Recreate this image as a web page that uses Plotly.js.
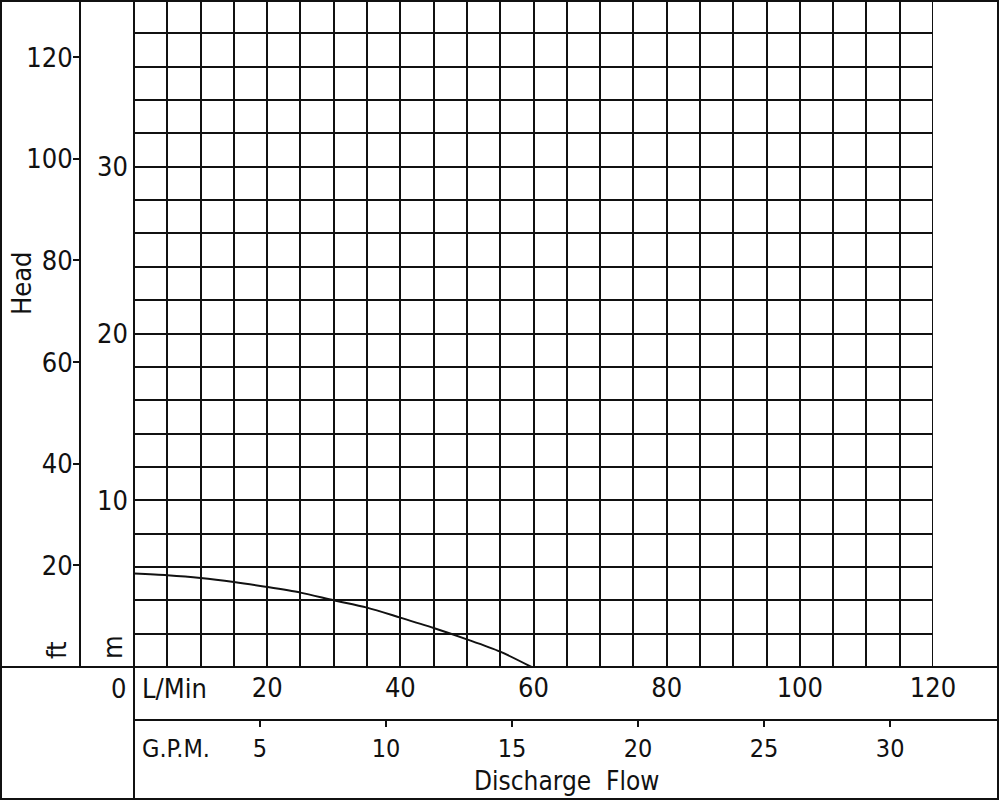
<!DOCTYPE html>
<html>
<head>
<meta charset="utf-8">
<script src="https://cdn.plot.ly/plotly-3.0.1.min.js"></script>
<style>html,body{margin:0;padding:0;background:#fff;}#chart{width:1000px;height:801px;}</style>
</head>
<body>
<div id="chart"></div>
<script>
// Pump performance curve data
const flowLmin = [0, 5, 10, 15, 20, 25, 30, 35, 40, 45, 50, 55, 59.7];
const headM    = [5.6, 5.5, 5.34, 5.1, 4.8, 4.46, 4.0, 3.56, 2.96, 2.34, 1.66, 0.92, 0];

const lminTicks = [20, 40, 60, 80, 100, 120];
const gpmTicks  = [5, 10, 15, 20, 25, 30];
const mTicks    = [10, 20, 30];
const ftTicks   = [20, 40, 60, 80, 100, 120];

const LMIN_MAX = 120;
const M_MAX = 40;
const LPM_PER_GPM = 3.785411784;
const M_PER_FT = 0.3048;

const W = 1000, H = 801;
const px = v => v / W;
const py = v => 1 - v / H;

const FONT = 'DejaVu Sans Condensed, DejaVu Sans, sans-serif';
const INK = '#111';
const font = {family: FONT, size: 27, color: INK};
const gpmFont = {family: FONT, size: 25, color: INK};
const titleFont = {family: FONT, size: 26, color: INK};

const trace = {
  x: flowLmin, y: headM, type: 'scatter', mode: 'lines',
  line: {color: INK, width: 2, shape: 'spline', smoothing: 0.8},
  xaxis: 'x', yaxis: 'y', hoverinfo: 'skip', showlegend: false
};
// same curve expressed in G.P.M. and ft so the secondary scales are drawn (invisible)
const traceGpm = {
  x: flowLmin.map(v => v / LPM_PER_GPM), y: headM, type: 'scatter', mode: 'lines',
  line: {width: 0}, opacity: 0, xaxis: 'x2', yaxis: 'y', hoverinfo: 'skip', showlegend: false
};
const traceFt = {
  x: flowLmin, y: headM.map(v => v / M_PER_FT), type: 'scatter', mode: 'lines',
  line: {width: 0}, opacity: 0, xaxis: 'x', yaxis: 'y3', hoverinfo: 'skip', showlegend: false
};

const gridStyle = {showgrid: true, gridcolor: INK, gridwidth: 2};

const layout = {
  width: W, height: H,
  margin: {l: 0, r: 0, t: 0, b: 0, pad: 0},
  paper_bgcolor: '#fff', plot_bgcolor: '#fff',
  font: font,
  showlegend: false,
  xaxis: Object.assign({
    domain: [px(134), px(933)], range: [0, LMIN_MAX], fixedrange: true,
    tickmode: 'array', tickvals: lminTicks, ticks: '', zeroline: false, showline: false,
    tickfont: font, ticklabelstandoff: 2,
    minor: {dtick: 5, showgrid: true, gridcolor: INK, gridwidth: 2, ticks: ''}
  }, gridStyle),
  yaxis: Object.assign({
    domain: [py(667), 1], range: [0, M_MAX], fixedrange: true,
    tickmode: 'array', tickvals: mTicks, ticks: '', zeroline: false, showline: false,
    tickfont: font, ticklabelstandoff: 5,
    minor: {dtick: 2, showgrid: true, gridcolor: INK, gridwidth: 2, ticks: ''}
  }, gridStyle),
  yaxis3: {
    overlaying: 'y', anchor: 'free', position: px(80), side: 'left',
    range: [0, M_MAX / M_PER_FT], fixedrange: true,
    tickmode: 'array', tickvals: ftTicks, ticks: 'outside', ticklen: 6, tickwidth: 2, tickcolor: INK,
    showline: true, linecolor: INK, linewidth: 2, showgrid: false, zeroline: false,
    tickfont: font, ticklabelstandoff: -5
  },
  xaxis2: {
    overlaying: 'x', anchor: 'free', position: 1 - 720 / H, side: 'bottom',
    range: [0, LMIN_MAX / LPM_PER_GPM], fixedrange: true,
    tickmode: 'array', tickvals: gpmTicks, ticks: 'outside', ticklen: 6, tickwidth: 2, tickcolor: INK,
    showline: false, showgrid: false, zeroline: false,
    tickfont: gpmFont, ticklabelstandoff: 0
  },
  shapes: [
    {type: 'rect', xref: 'paper', yref: 'paper', x0: px(1), x1: px(998), y0: py(799), y1: py(1), line: {color: INK, width: 2}},
    {type: 'line', xref: 'paper', yref: 'paper', x0: px(1), x1: px(998), y0: py(667), y1: py(667), line: {color: INK, width: 2}},
    {type: 'line', xref: 'paper', yref: 'paper', x0: px(134), x1: px(998), y0: py(720), y1: py(720), line: {color: INK, width: 2}},
    {type: 'line', xref: 'paper', yref: 'paper', x0: px(134), x1: px(134), y0: py(1), y1: py(799), line: {color: INK, width: 2}},
    {type: 'line', xref: 'x', yref: 'paper', x0: LMIN_MAX, x1: LMIN_MAX, y0: py(667), y1: 1, line: {color: INK, width: 2}}
  ],
  annotations: [
    {xref: 'x', yref: 'paper', x: 0, y: py(688), text: '0', showarrow: false, xanchor: 'right', yanchor: 'middle', xshift: -6, font: font},
    {xref: 'paper', yref: 'paper', x: px(140), y: py(688), text: 'L/Min', showarrow: false, xanchor: 'left', yanchor: 'middle', font: font},
    {xref: 'paper', yref: 'paper', x: px(140), y: py(748), text: 'G.P.M.', showarrow: false, xanchor: 'left', yanchor: 'middle', font: gpmFont},
    {xref: 'paper', yref: 'paper', x: px(566), y: py(781), text: 'Discharge&nbsp;&nbsp;Flow', showarrow: false, xanchor: 'center', yanchor: 'middle', font: titleFont},
    {xref: 'paper', yref: 'paper', x: px(21), y: py(283), text: 'Head', textangle: -90, showarrow: false, xanchor: 'center', yanchor: 'middle', font: font},
    {xref: 'paper', yref: 'paper', x: px(56), y: py(650), text: 'ft', textangle: -90, showarrow: false, xanchor: 'center', yanchor: 'middle', font: font},
    {xref: 'paper', yref: 'paper', x: px(112), y: py(647), text: 'm', textangle: -90, showarrow: false, xanchor: 'center', yanchor: 'middle', font: font}
  ]
};

Plotly.newPlot('chart', [trace, traceGpm, traceFt], layout, {displayModeBar: false, staticPlot: true});
</script>
</body>
</html>
